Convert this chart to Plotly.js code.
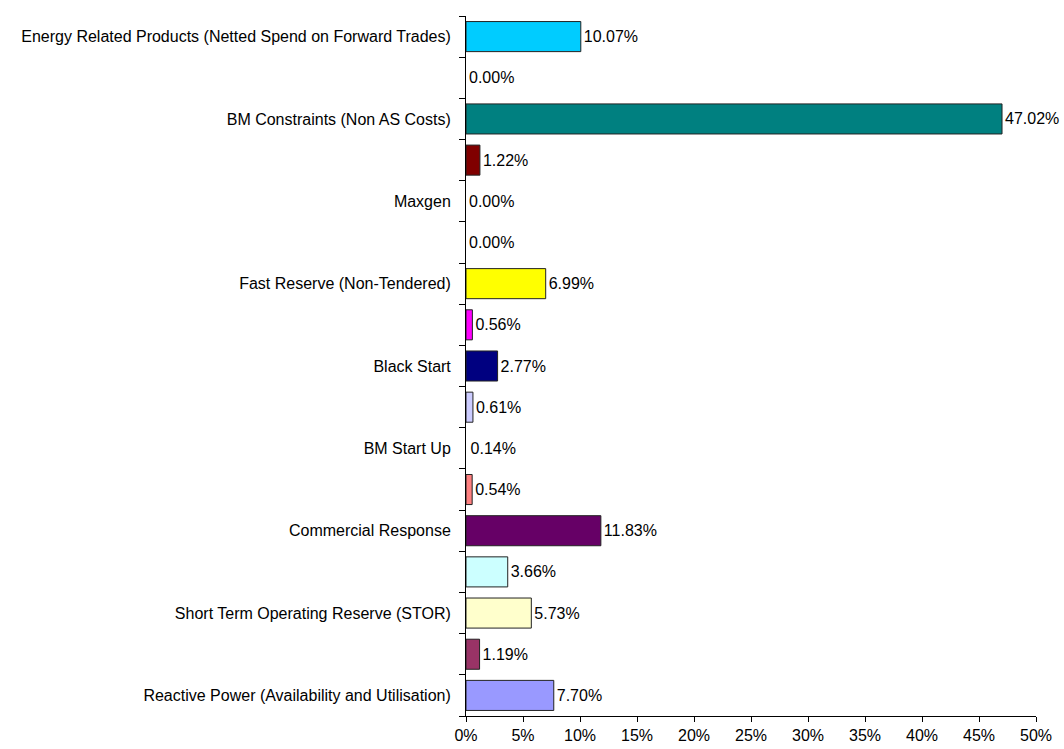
<!DOCTYPE html>
<html>
<head>
<meta charset="utf-8">
<script src="https://cdn.plot.ly/plotly-3.0.1.min.js"></script>
<style>
  html, body { margin: 0; padding: 0; background: #fff; }
  #chart { width: 1064px; height: 749px; }
</style>
</head>
<body>
<div id="chart"></div>
<script>
// categories top to bottom (every other label is hidden in the original)
const categoryIds = ['c01','c02','c03','c04','c05','c06','c07','c08','c09','c10','c11','c12','c13','c14','c15','c16','c17'];
const categoryLabels = [
  'Energy Related Products (Netted Spend on Forward Trades)', '',
  'BM Constraints (Non AS Costs)', '',
  'Maxgen', '',
  'Fast Reserve (Non-Tendered)', '',
  'Black Start', '',
  'BM Start Up', '',
  'Commercial Response', '',
  'Short Term Operating Reserve (STOR)', '',
  'Reactive Power (Availability and Utilisation)'
];
const sharePct = [10.07, 0.00, 47.02, 1.22, 0.00, 0.00, 6.99, 0.56, 2.77, 0.61, 0.14, 0.54, 11.83, 3.66, 5.73, 1.19, 7.70];
const barColors = ['#00CCFF','#FFFFFF','#008080','#800000','#FFFFFF','#FFFFFF','#FFFF00','#FF00FF','#000080',
                   '#CCCCFF','#FFFFFF','#FF8080','#660066','#CCFFFF','#FFFFCC','#993366','#9999FF'];
const xTicks = [0, 5, 10, 15, 20, 25, 30, 35, 40, 45, 50];

const font = { family: 'Liberation Sans, Arial, sans-serif', size: 16, color: '#000' };

Plotly.newPlot('chart', [{
  type: 'bar',
  orientation: 'h',
  y: categoryIds,
  x: sharePct,
  marker: {
    color: barColors,
    // bars too thin to see in the original get no outline
    line: { color: '#222', width: sharePct.map(v => v < 0.3 ? 0 : 1) }
  },
  text: sharePct.map(v => v.toFixed(2) + '%'),
  textposition: 'outside',
  textfont: font,
  cliponaxis: false,
  hoverinfo: 'skip'
}], {
  width: 1064, height: 749,
  margin: { l: 466, r: 28, t: 16, b: 33 },
  paper_bgcolor: '#fff', plot_bgcolor: '#fff',
  font: font,
  showlegend: false,
  bargap: 0.27,
  xaxis: {
    range: [0, 50],
    tickvals: xTicks,
    ticktext: xTicks.map(v => v + '%'),
    showgrid: false, zeroline: false,
    showline: true, linecolor: '#000', linewidth: 1,
    ticks: 'outside', ticklen: 5, tickcolor: '#000',
    tickfont: font, fixedrange: true
  },
  yaxis: {
    type: 'category',
    categoryorder: 'array', categoryarray: categoryIds,
    autorange: 'reversed',
    tickvals: categoryIds, ticktext: categoryLabels,
    tickson: 'boundaries',
    ticklabelstandoff: 11,
    showgrid: false, zeroline: false,
    showline: true, linecolor: '#000', linewidth: 1,
    ticks: 'outside', ticklen: 6, tickcolor: '#000',
    tickfont: font, fixedrange: true
  }
}, { displayModeBar: false, staticPlot: true });
</script>
</body>
</html>
